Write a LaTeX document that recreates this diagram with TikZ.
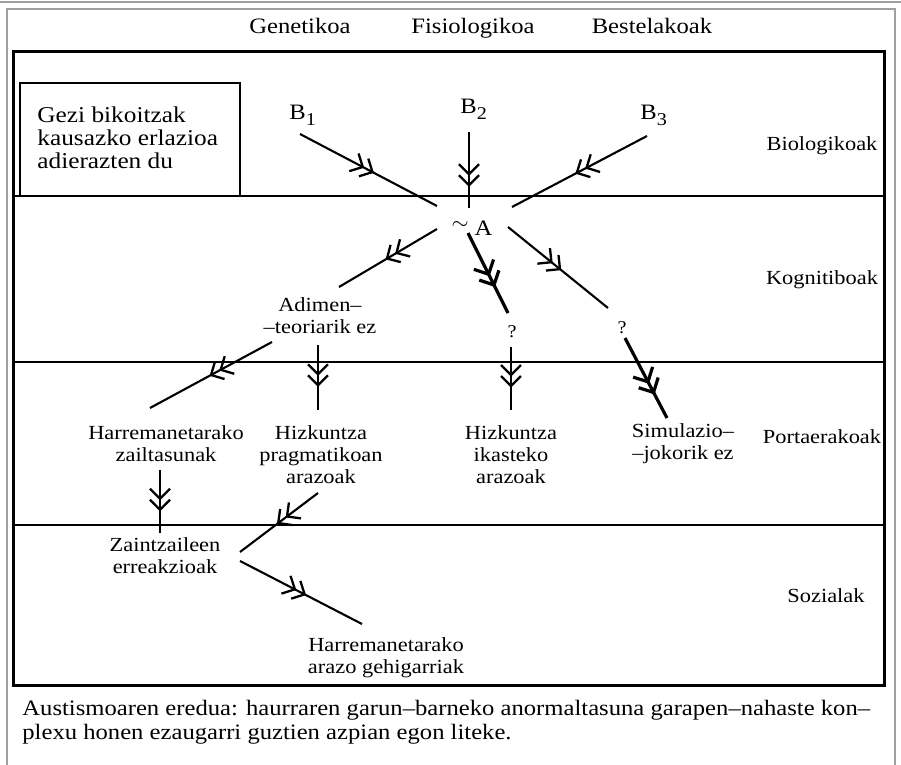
\documentclass[tikz,border=0pt]{standalone}
\usepackage{fontspec}
\setmainfont{Liberation Serif}[FakeStretch=1.12]
\usetikzlibrary{decorations.markings}
\tikzset{
  chev/.style={postaction={decorate}, decoration={markings, mark=at position #1 with {
     \draw[line width=1.15pt] (-5pt,5pt) -- (0pt,0pt) -- (-5pt,-5pt);
     \draw[line width=1.15pt] (-10.5pt,5pt) -- (-5.5pt,0pt) -- (-10.5pt,-5pt);}}},
  chevthick/.style={postaction={decorate}, decoration={markings, mark=at position #1 with {
     \draw[line width=1.6pt] (-5.5pt,5.5pt) -- (0pt,0pt) -- (-5.5pt,-5.5pt);
     \draw[line width=1.6pt] (-11.5pt,5.5pt) -- (-6pt,0pt) -- (-11.5pt,-5.5pt);}}},
  conn/.style={line width=1.05pt},
  thickconn/.style={line width=1.6pt},
  rulel/.style={line width=1pt},
  lab/.style={font=\fontsize{10}{11}\selectfont, align=center, inner sep=0pt},
  side/.style={font=\fontsize{10}{12}\selectfont, inner sep=0pt, anchor=base},
  head/.style={font=\fontsize{11}{13}\selectfont, inner sep=0pt, anchor=base},
  blab/.style={font=\fontsize{11}{13}\selectfont, inner sep=0pt, anchor=base west},
  qm/.style={font=\fontsize{9}{10}\selectfont, inner sep=0pt},
}
\newcommand{\subnum}[1]{\raisebox{-0.55ex}{\fontsize{9}{9}\selectfont #1}}
\begin{document}
\begin{tikzpicture}[x=0.5pt, y=-0.5pt]
\useasboundingbox (0,0) rectangle (901,765);
% outer frames
\draw[gray!75, line width=0.6pt] (0,2) -- (901,2);
\draw[gray!75, line width=0.7pt] (7,770) -- (7,9) -- (895,9) -- (895,770);
\draw[line width=1.5pt] (13,52) rectangle (884,685);
% horizontal rules
\draw[rulel] (13,196) -- (884,196);
\draw[rulel] (13,362) -- (884,362);
\draw[rulel] (13,525) -- (884,525);
% headers
\node[head] (genet) at (300,34) {Genetikoa};
\node[head] (fisio) at (473,34) {Fisiologikoa};
\node[head] (beste) at (652,34) {Bestelakoak};
% side labels
\node[side] (bio) at (822,151) {Biologikoak};
\node[side] (kog) at (822,285) {Kognitiboak};
\node[side] (port) at (822,443) {Portaerakoak};
\node[side] (soz) at (826,602) {Sozialak};
% legend
\draw[line width=1pt] (20,83) rectangle (240,196);
\node[font=\fontsize{11.3}{11.5}\selectfont, align=left, inner sep=0pt, anchor=north west] (legend) at (37,106)
  {Gezi bikoitzak\\kausazko erlazioa\\adierazten du};
% B nodes
\node[blab] (B1) at (289,120) {B\subnum{1}};
\node[blab] (B2) at (460,114) {B\subnum{2}};
\node[blab] (B3) at (640,120) {B\subnum{3}};
\node[font=\fontsize{11}{13}\selectfont, inner sep=0pt, anchor=base] (A) at (472,235) {\raisebox{2.5pt}{$\sim$}\hspace{3pt}A};
% labels
\node[lab] (adimen) at (320,316) {Adimen–\\–teoriarik ez};
\node[qm] (q1) at (512,332) {?};
\node[qm] (q2) at (622,328) {?};
\node[lab] (harr) at (166,444) {Harremanetarako\\zailtasunak};
\node[lab] (hizp) at (321,455) {Hizkuntza\\pragmatikoan\\arazoak};
\node[lab] (hizi) at (511,455) {Hizkuntza\\ikasteko\\arazoak};
\node[lab] (sim) at (683,444) {Simulazio–\\–jokorik ez};
\node[lab] (zain) at (165,556) {Zaintzaileen\\erreakzioak};
\node[lab] (harr2) at (386,658) {Harremanetarako\\arazo gehigarriak};
% connector end points
\coordinate (b1s) at (300,134); \coordinate (b1e) at (437,206);
\coordinate (b2s) at (469,132); \coordinate (b2e) at (469,208);
\coordinate (b3s) at (647,136); \coordinate (b3e) at (512,207);
\coordinate (a1s) at (437,229); \coordinate (a1e) at (339,287);
\coordinate (a2s) at (468,233); \coordinate (a2e) at (508,313);
\coordinate (a3s) at (508,227); \coordinate (a3e) at (608,308);
\coordinate (d1s) at (318,345); \coordinate (d1e) at (318,410);
\coordinate (q1s) at (511,347); \coordinate (q1e) at (511,410);
\coordinate (q2s) at (625,338); \coordinate (q2e) at (667,418);
\coordinate (d2s) at (272,342); \coordinate (d2e) at (150,408);
\coordinate (h1s) at (160,470); \coordinate (h1e) at (160,533);
\coordinate (p1s) at (318,493); \coordinate (p1e) at (240,552);
\coordinate (z1s) at (240,561); \coordinate (z1e) at (362,624);
% connectors
\draw[conn, chev=0.53] (b1s) -- (b1e);
\draw[conn, chev=0.70] (b2s) -- (b2e);
\draw[conn, chev=0.52] (b3s) -- (b3e);
\draw[conn, chev=0.51] (a1s) -- (a1e);
\draw[thickconn, chevthick=0.65] (a2s) -- (a2e);
\draw[conn, chev=0.52] (a3s) -- (a3e);
\draw[conn, chev=0.62] (d1s) -- (d1e);
\draw[conn, chev=0.62] (q1s) -- (q1e);
\draw[thickconn, chevthick=0.68] (q2s) -- (q2e);
\draw[conn, chev=0.50] (d2s) -- (d2e);
\draw[conn, chev=0.63] (h1s) -- (h1e);
\draw[conn, chev=0.51] (p1s) -- (p1e);
\draw[conn, chev=0.53] (z1s) -- (z1e);
% caption
\node[font=\fontsize{11}{12}\selectfont, align=left, inner sep=0pt, anchor=north west] (caption) at (22,700)
  {Austismoaren eredua: haurraren garun–barneko anormaltasuna garapen–nahaste kon–\\plexu honen ezaugarri guztien azpian egon liteke.};
\end{tikzpicture}
\end{document}
